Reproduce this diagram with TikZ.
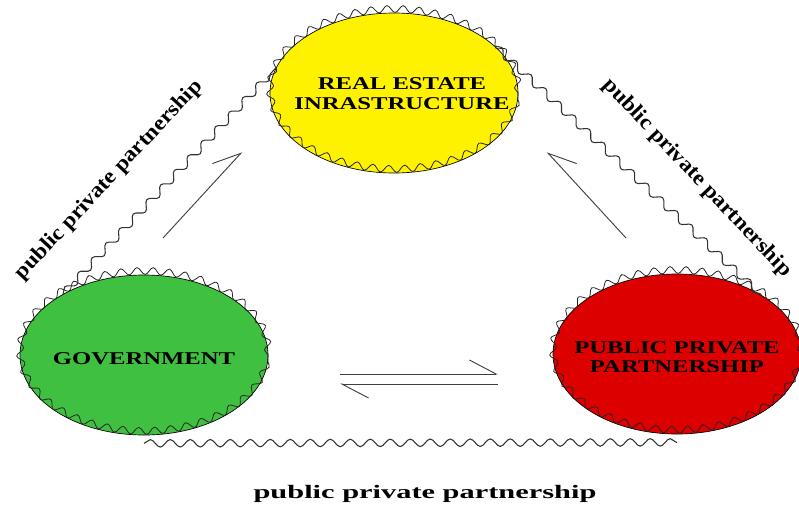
\documentclass[tikz,border=0pt]{standalone}
\usepackage{fontspec}
\setmainfont{Liberation Serif}
\usetikzlibrary{arrows.meta, positioning, shapes.geometric, decorations.pathmorphing, calc}

\begin{document}
\begin{tikzpicture}[
  x=0.75pt, y=-0.75pt,
  blob/.style={ellipse, draw=black, line width=0.5pt, inner sep=0pt,
    minimum width=186pt, minimum height=120pt,
    postaction={draw=black!85, line width=0.6pt, decorate,
      decoration={snake, amplitude=2.6pt, segment length=12pt}}},
  txt/.style={align=center, font=\fontsize{13.5}{14.5}\selectfont\bfseries},
  wave/.style={draw=black!80, line width=0.8pt, decorate,
    decoration={snake, amplitude=2.8pt, segment length=15pt}},
  harpl/.style={draw=black!75, line width=0.7pt, -{Straight Barb[left, length=20pt, width=21pt]}},
  harpr/.style={draw=black!75, line width=0.7pt, -{Straight Barb[right, length=20pt, width=21pt]}},
  lbl/.style={font=\fontsize{16}{18}\selectfont\bfseries}
]
\useasboundingbox (0,0) rectangle (799,507);

% circles
\node[blob, fill=yellow, label={[txt, xshift=6pt, yshift=-2pt]center:\scalebox{1.37}[1]{\begin{tabular}{@{}c@{}}REAL ESTATE\\INRASTRUCTURE\end{tabular}}}] (real) at (394,93) {};
\node[blob, fill={rgb,255:red,64;green,192;blue,64}, label={[txt, yshift=-3pt]center:\scalebox{1.37}[1]{GOVERNMENT}}] (gov) at (144,355) {};
\node[blob, fill={rgb,255:red,221;green,0;blue,0}, label={[txt, yshift=-4pt]center:\scalebox{1.37}[1]{\begin{tabular}{@{}c@{}}PUBLIC PRIVATE\\PARTNERSHIP\end{tabular}}}] (ppp) at (677,354) {};

% wavy links
\draw[wave] (gov.143) -- (real.168);
\draw[wave] (real.25) -- (ppp.35);
\draw[wave] ($(gov.south)+(0,8)$) -- ($(ppp.south)+(0,8)$);

% labels
\node[lbl, rotate=47] (lleft) at (109,180) {\scalebox{1.1}[1]{public private partnership}};
\node[lbl, rotate=-46.5] (lright) at (697,178) {\scalebox{1.1}[1]{public private partnership}};
\node[lbl, font=\fontsize{14.25}{16}\selectfont\bfseries] (lbottom) at (425,494)
  {\scalebox{1.6}[1]{public private partnership}};

% arrows
\coordinate (g2r) at (163,238);
\coordinate (r1) at (242,152);
\coordinate (p2r) at (626,238);
\coordinate (r2) at (547,152);
\coordinate (g2p) at (340,374);
\coordinate (p1) at (498,374);
\coordinate (p2g) at (498,384);
\coordinate (g1) at (340,384);
\draw[harpl] (g2r) -- (r1);
\draw[harpr] (p2r) -- (r2);
\draw[harpl] (g2p) -- (p1);
\draw[harpl] (p2g) -- (g1);
\end{tikzpicture}
\end{document}
